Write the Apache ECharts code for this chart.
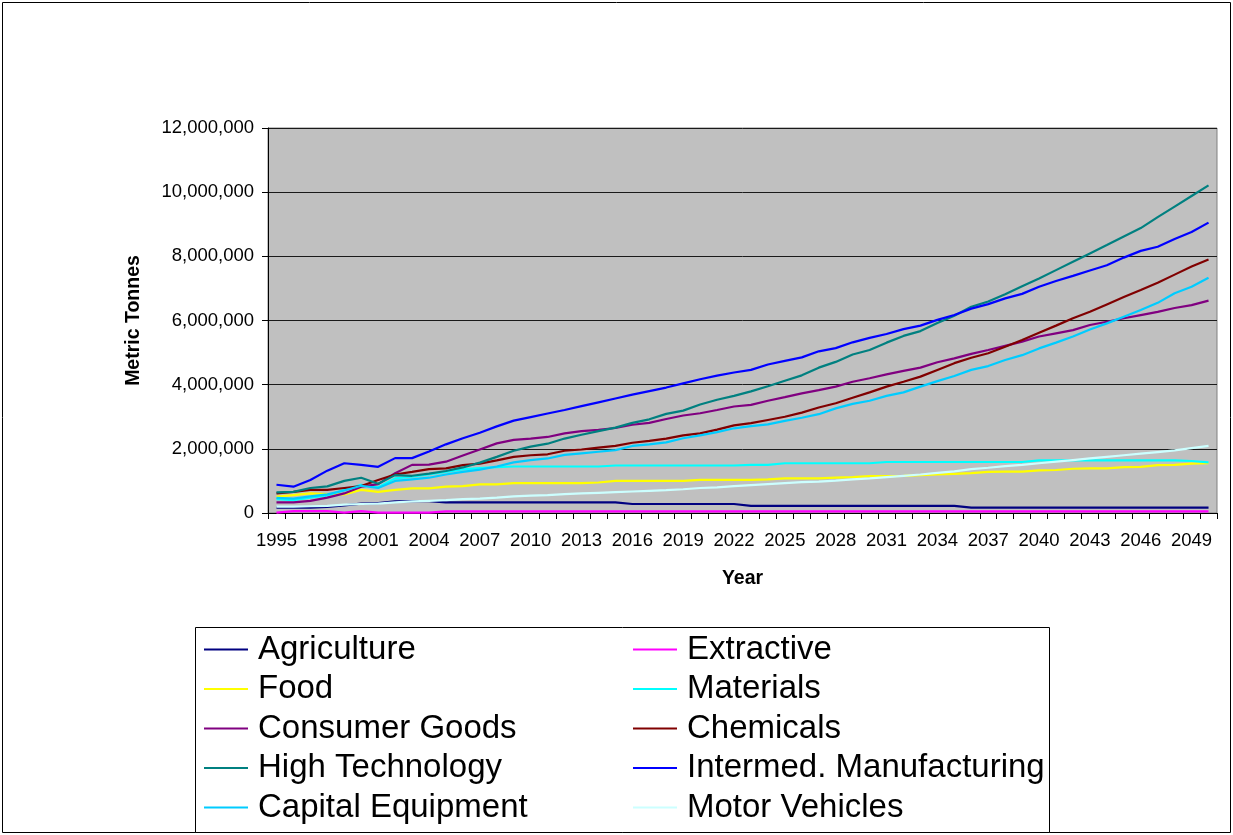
<!DOCTYPE html>
<html>
<head>
<meta charset="utf-8">
<script src="https://cdn.jsdelivr.net/npm/echarts@6/dist/echarts.min.js"></script>
<style>
  html, body { margin: 0; padding: 0; background: #ffffff; }
  #chart { width: 1233px; height: 835px; }
</style>
</head>
<body>
<div id="chart"></div>
<script>
// Years on the category axis
const years = [
  '1995','1996','1997','1998','1999','2000','2001','2002','2003','2004',
  '2005','2006','2007','2008','2009','2010','2011','2012','2013','2014',
  '2015','2016','2017','2018','2019','2020','2021','2022','2023','2024',
  '2025','2026','2027','2028','2029','2030','2031','2032','2033','2034',
  '2035','2036','2037','2038','2039','2040','2041','2042','2043','2044',
  '2045','2046','2047','2048','2049','2050'
];

// Value axis ticks (metric tonnes)
const yTicks = [0, 2000000, 4000000, 6000000, 8000000, 10000000, 12000000];

// Sector tonnage, 1995-2050
const agriculture = [
  170000,170000,170000,190000,240000,290000,310000,360000,370000,370000,
  330000,330000,330000,330000,330000,330000,330000,330000,330000,330000,
  330000,280000,280000,280000,280000,280000,280000,280000,220000,220000,
  220000,220000,220000,220000,220000,220000,220000,220000,220000,220000,
  220000,170000,170000,170000,170000,170000,170000,170000,170000,170000,
  170000,170000,170000,170000,170000,170000
];
const extractive = [
  10000,60000,60000,60000,10000,60000,10000,10000,10000,10000,
  50000,50000,50000,50000,50000,50000,50000,50000,50000,50000,
  50000,50000,50000,50000,50000,50000,50000,50000,50000,50000,
  50000,50000,50000,50000,50000,50000,50000,50000,50000,50000,
  50000,50000,50000,50000,50000,50000,50000,50000,50000,50000,
  50000,50000,50000,50000,50000,50000
];
const food = [
  510000,560000,610000,590000,580000,720000,660000,720000,770000,770000,
  820000,840000,890000,890000,930000,930000,930000,930000,930000,950000,
  1000000,1000000,1000000,1000000,1000000,1030000,1030000,1030000,1030000,1050000,
  1080000,1080000,1080000,1100000,1120000,1150000,1150000,1160000,1180000,1200000,
  1220000,1240000,1280000,1290000,1290000,1330000,1340000,1380000,1390000,1390000,
  1430000,1440000,1490000,1500000,1540000,1550000
];
const materials = [
  430000,400000,480000,550000,720000,880000,800000,1080000,1130000,1200000,
  1280000,1360000,1400000,1430000,1450000,1450000,1450000,1450000,1450000,1450000,
  1480000,1480000,1480000,1480000,1480000,1480000,1480000,1480000,1500000,1500000,
  1550000,1550000,1550000,1550000,1550000,1550000,1590000,1590000,1590000,1590000,
  1590000,1590000,1590000,1590000,1590000,1640000,1640000,1640000,1640000,1640000,
  1640000,1640000,1640000,1640000,1620000,1580000
];
const consumerGoods = [
  330000,330000,380000,480000,610000,820000,900000,1240000,1500000,1510000,
  1600000,1790000,1980000,2170000,2280000,2320000,2370000,2480000,2550000,2590000,
  2650000,2750000,2810000,2930000,3040000,3110000,3210000,3320000,3370000,3500000,
  3610000,3730000,3830000,3940000,4090000,4200000,4320000,4430000,4530000,4700000,
  4820000,4960000,5080000,5210000,5340000,5500000,5600000,5700000,5860000,5960000,
  6070000,6170000,6270000,6390000,6480000,6620000
];
const chemicals = [
  610000,660000,720000,720000,780000,840000,1030000,1200000,1280000,1370000,
  1390000,1490000,1540000,1640000,1750000,1800000,1830000,1940000,1980000,2040000,
  2090000,2190000,2250000,2320000,2420000,2480000,2600000,2730000,2800000,2900000,
  3000000,3130000,3290000,3420000,3590000,3760000,3940000,4090000,4250000,4460000,
  4670000,4840000,4980000,5180000,5390000,5620000,5840000,6070000,6270000,6500000,
  6730000,6950000,7180000,7430000,7680000,7900000
];
const highTechnology = [
  640000,660000,780000,830000,1000000,1100000,910000,1180000,1160000,1230000,
  1310000,1420000,1570000,1750000,1940000,2070000,2160000,2320000,2440000,2550000,
  2660000,2810000,2920000,3090000,3190000,3380000,3530000,3650000,3790000,3950000,
  4120000,4290000,4530000,4710000,4940000,5080000,5310000,5520000,5670000,5920000,
  6150000,6430000,6590000,6820000,7070000,7310000,7570000,7830000,8090000,8350000,
  8620000,8880000,9220000,9550000,9880000,10210000
];
const intermedManufacturing = [
  880000,820000,1030000,1320000,1550000,1500000,1440000,1710000,1710000,1920000,
  2140000,2330000,2500000,2700000,2880000,2990000,3100000,3210000,3330000,3450000,
  3570000,3690000,3800000,3910000,4040000,4170000,4280000,4380000,4460000,4630000,
  4740000,4850000,5040000,5140000,5320000,5460000,5580000,5730000,5840000,6020000,
  6170000,6370000,6510000,6690000,6830000,7050000,7230000,7390000,7560000,7720000,
  7960000,8170000,8300000,8540000,8760000,9050000
];
const capitalEquipment = [
  470000,450000,520000,580000,700000,850000,780000,1000000,1050000,1100000,
  1200000,1280000,1350000,1450000,1580000,1650000,1700000,1810000,1860000,1910000,
  1960000,2090000,2140000,2200000,2330000,2420000,2520000,2640000,2710000,2760000,
  2870000,2970000,3080000,3260000,3400000,3500000,3650000,3760000,3940000,4110000,
  4270000,4460000,4580000,4770000,4920000,5130000,5310000,5500000,5720000,5910000,
  6120000,6330000,6550000,6850000,7050000,7330000
];
const motorVehicles = [
  200000,200000,210000,220000,260000,280000,290000,330000,360000,380000,
  400000,430000,450000,480000,520000,540000,560000,590000,610000,630000,
  650000,670000,690000,710000,740000,780000,800000,840000,870000,900000,
  930000,960000,980000,1010000,1050000,1080000,1120000,1160000,1200000,1250000,
  1300000,1370000,1410000,1460000,1500000,1550000,1600000,1650000,1700000,1750000,
  1800000,1850000,1900000,1950000,2020000,2090000
];

const seriesNames = [
  'Agriculture', 'Extractive', 'Food', 'Materials', 'Consumer Goods',
  'Chemicals', 'High Technology', 'Intermed. Manufacturing', 'Capital Equipment', 'Motor Vehicles'
];
const seriesData = [
  agriculture, extractive, food, materials, consumerGoods,
  chemicals, highTechnology, intermedManufacturing, capitalEquipment, motorVehicles
];
const seriesColors = [
  '#000080', '#ff00ff', '#ffff00', '#00ffff', '#800080',
  '#800000', '#008080', '#0000ff', '#00ccff', '#ccffff'
];

const FONT = '"Liberation Sans", Arial, sans-serif';
const fmt = v => String(v).replace(/\B(?=(\d{3})+(?!\d))/g, ',');

const chart = echarts.init(document.getElementById('chart'), null, { renderer: 'canvas' });

const legendBase = {
  orient: 'vertical',
  top: 633,
  padding: 0,
  icon: 'rect',
  itemWidth: 44,
  itemHeight: 2,
  itemGap: 6.5,
  selectedMode: false,
  textStyle: {
    fontFamily: FONT,
    fontSize: 33,
    lineHeight: 33,
    color: '#000',
    padding: [0, 0, 0, 5]
  }
};

chart.setOption({
  animation: false,
  backgroundColor: '#ffffff',
  textStyle: { fontFamily: FONT },
  grid: {
    left: 268,
    right: 16,
    top: 128,
    bottom: 322,
    show: true,
    backgroundColor: '#c0c0c0',
    borderColor: '#808080',
    borderWidth: 1
  },
  legend: [
    Object.assign({}, legendBase, {
      left: 204,
      data: ['Agriculture', 'Food', 'Consumer Goods', 'High Technology', 'Capital Equipment']
    }),
    Object.assign({}, legendBase, {
      left: 633,
      data: ['Extractive', 'Materials', 'Chemicals', 'Intermed. Manufacturing', 'Motor Vehicles']
    })
  ],
  xAxis: {
    type: 'category',
    data: years,
    boundaryGap: true,
    name: 'Year',
    nameLocation: 'middle',
    nameGap: 56,
    nameTextStyle: { fontFamily: FONT, fontSize: 19.5, fontWeight: 'bold', color: '#000' },
    axisLine: { show: true, lineStyle: { color: '#000', width: 1 } },
    axisTick: { show: true, interval: 0, length: 6, lineStyle: { color: '#000' } },
    axisLabel: { interval: 2, fontFamily: FONT, fontSize: 18.5, color: '#000', margin: 18 },
    splitLine: { show: false }
  },
  yAxis: {
    type: 'value',
    min: yTicks[0],
    max: yTicks[yTicks.length - 1],
    interval: yTicks[1] - yTicks[0],
    name: 'Metric Tonnes',
    nameLocation: 'middle',
    nameRotate: 90,
    nameGap: 124,
    nameTextStyle: { fontFamily: FONT, fontSize: 19.5, fontWeight: 'bold', color: '#000' },
    axisLine: { show: true, lineStyle: { color: '#000', width: 1 } },
    axisTick: { show: true, length: 6, lineStyle: { color: '#000' } },
    axisLabel: { fontFamily: FONT, fontSize: 18.5, color: '#000', margin: 14, formatter: fmt },
    splitLine: { show: true, lineStyle: { color: '#1a1a1a', width: 1 } }
  },
  series: seriesNames.map((name, i) => ({
    name: name,
    type: 'line',
    data: seriesData[i],
    showSymbol: false,
    symbol: 'none',
    color: seriesColors[i],
    lineStyle: { color: seriesColors[i], width: 2.2 },
    emphasis: { disabled: true }
  })),
  graphic: [
    {
      type: 'rect',
      silent: true,
      z: -1,
      shape: { x: 2.5, y: 2.5, width: 1228, height: 830 },
      style: { fill: 'none', stroke: '#000', lineWidth: 1 }
    },
    {
      type: 'rect',
      silent: true,
      shape: { x: 195.5, y: 627.5, width: 854, height: 205 },
      style: { fill: '#fff', stroke: '#000', lineWidth: 1 },
      z: -1
    }
  ]
});
</script>
</body>
</html>
